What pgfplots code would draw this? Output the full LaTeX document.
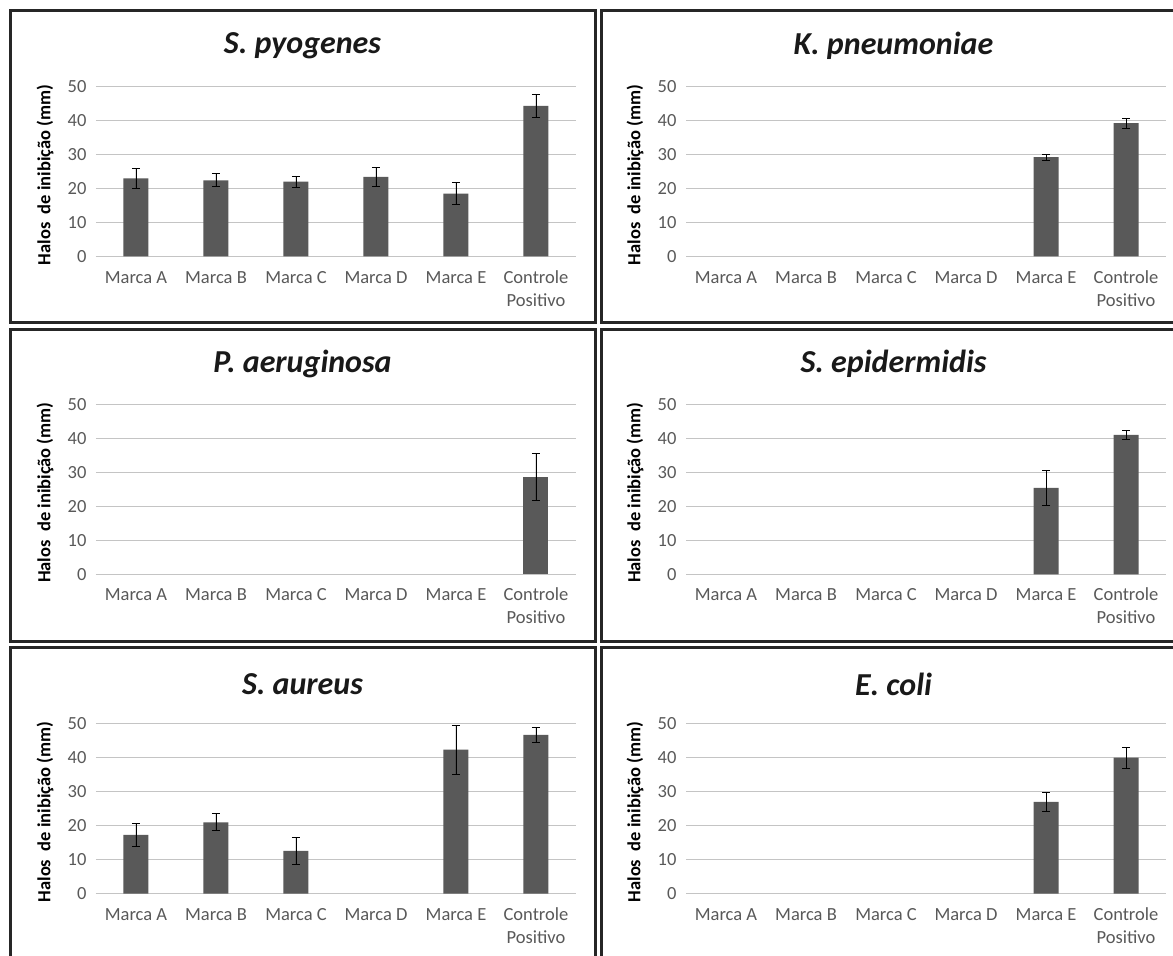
\documentclass[border=0pt]{standalone}
\usepackage{fontspec}
\setmainfont{Carlito}
\usepackage{pgfplots}
\pgfplotsset{compat=1.18}
\definecolor{barc}{HTML}{595959}
\definecolor{gridc}{HTML}{C4C4C4}
\definecolor{txtc}{HTML}{595959}
\pgfplotsset{panel/.style={
  scale only axis, width=480pt, height=170pt,
  anchor=south west,
  xmin=-0.5, xmax=5.5, ymin=0, ymax=50,
  ytick={0,10,20,30,40,50},
  xtick={0,...,5},
  xticklabels={\strut Marca A,\strut Marca B,\strut Marca C,\strut Marca D,\strut Marca E,{\strut Controle\\Positivo}},
  ymajorgrids, grid style={gridc, line width=1pt},
  axis x line*=bottom, axis y line*=left,
  y axis line style={draw=none},
  x axis line style={gridc, line width=1pt, -},
  major tick length=0pt,
  tick style={draw=none},
  xticklabel style={align=center, font=\fontsize{18.5}{23}\selectfont, text=txtc, yshift=-7pt},
  yticklabel style={font=\fontsize{18.5}{21}\selectfont, text=txtc, xshift=-6pt},
  /pgf/number format/assume math mode=true,
  ylabel={Halos\ \ de inibição (mm)},
  every axis y label/.style={at={(axis description cs:-0.106,0.48)}, rotate=90, anchor=center, font=\bfseries\fontsize{18.5}{20}\selectfont},
  ybar, bar width=25pt,
  enlargelimits=false,
  clip=false,
}}
\pgfplotsset{bars/.style={fill=barc, draw=none,
  error bars/.cd, y dir=both, y explicit,
  error bar style={black, line width=0.8pt},
  error mark options={rotate=90, black, mark size=4pt, line width=0.8pt}}}
\tikzset{ttl/.style={font=\bfseries\itshape\fontsize{32}{34}\selectfont, text=black!90}}
\begin{document}
\begin{tikzpicture}
\begin{pgfinterruptboundingbox}
\fill[white] (0,0) rectangle (1173pt,956pt);
\clip (0,0) rectangle (1173pt,956pt);
% panel borders
\begin{scope}[line width=3pt, draw=black!85]
\draw (10pt,945pt) rectangle (595pt,633pt);
\draw (601pt,945pt) rectangle (1190pt,633pt);
\draw (10pt,626pt) rectangle (595pt,314pt);
\draw (601pt,626pt) rectangle (1190pt,314pt);
\draw (10pt,308pt) rectangle (595pt,-20pt);
\draw (601pt,308pt) rectangle (1190pt,-20pt);
\end{scope}
% titles
\node[ttl] at (302.5pt,910pt) {S. pyogenes};
\node[ttl] at (893.5pt,910pt) {K. pneumoniae};
\node[ttl] at (302.5pt,592pt) {P. aeruginosa};
\node[ttl] at (893.5pt,592pt) {S. epidermidis};
\node[ttl] at (302.5pt,272pt) {S. aureus};
\node[ttl] at (893.5pt,272pt) {E. coli};
% S. pyogenes
\begin{axis}[panel, at={(96pt,699.5pt)}]
\addplot[bars] coordinates {(0,23.0) +- (0,3.0) (1,22.4) +- (0,1.9) (2,22.0) +- (0,1.7) (3,23.4) +- (0,2.7) (4,18.5) +- (0,3.3) (5,44.3) +- (0,3.5)};
\end{axis}
% K. pneumoniae
\begin{axis}[panel, at={(686pt,699.5pt)}]
\addplot[bars] coordinates {(4,29.2) +- (0,0.9) (5,39.2) +- (0,1.4)};
\end{axis}
% P. aeruginosa
\begin{axis}[panel, at={(96pt,381.7pt)}]
\addplot[bars] coordinates {(5,28.7) +- (0,7.0)};
\end{axis}
% S. epidermidis
\begin{axis}[panel, at={(686pt,381.7pt)}]
\addplot[bars] coordinates {(4,25.4) +- (0,5.2) (5,41.0) +- (0,1.4)};
\end{axis}
% S. aureus
\begin{axis}[panel, at={(96pt,62.3pt)}]
\addplot[bars] coordinates {(0,17.3) +- (0,3.3) (1,21.0) +- (0,2.5) (2,12.6) +- (0,4.0) (4,42.4) +- (0,7.2) (5,46.7) +- (0,2.3)};
\end{axis}
% E. coli
\begin{axis}[panel, at={(686pt,62.3pt)}]
\addplot[bars] coordinates {(4,27.0) +- (0,2.7) (5,40.0) +- (0,3.0)};
\end{axis}
\end{pgfinterruptboundingbox}
\useasboundingbox (0,0) rectangle (1173pt,956pt);
\end{tikzpicture}
\end{document}
